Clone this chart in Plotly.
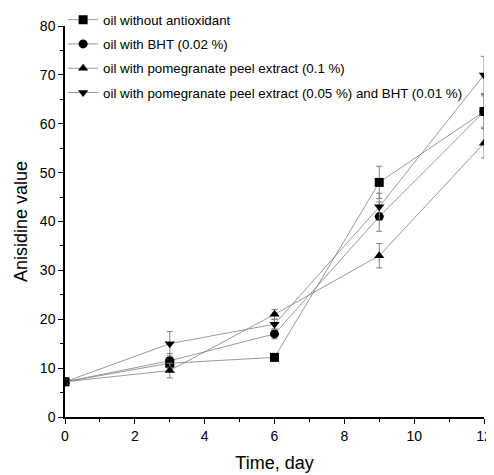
import plotly.graph_objects as go

days = [0, 3, 6, 9, 12]
names = [
    "oil without antioxidant",
    "oil with BHT (0.02 %)",
    "oil with pomegranate peel extract (0.1 %)",
    "oil with pomegranate peel extract (0.05 %) and BHT (0.01 %)",
]
no_antiox = [7.2, 11.0, 12.2, 48.0, 62.5]
bht = [7.2, 11.5, 17.0, 41.0, 62.5]
ppe = [7.2, 9.5, 21.0, 33.0, 56.0]
ppe_bht = [7.2, 15.0, 19.0, 43.0, 70.0]

err_no = [0.4, 1.2, 0.6, 3.3, 3.5]
err_bht = [0.4, 1.5, 1.0, 3.0, 3.2]
err_ppe = [0.4, 1.5, 1.0, 2.5, 3.0]
err_ppebht = [0.4, 2.5, 1.0, 2.8, 3.8]

series = [no_antiox, bht, ppe, ppe_bht]
errors = [err_no, err_bht, err_ppe, err_ppebht]
symbols = ["square", "circle", "triangle-up", "triangle-down"]

fig = go.Figure()
for i, (name, ys, es, sym) in enumerate(zip(names, series, errors, symbols)):
    fig.add_trace(go.Scatter(
        x=days, y=ys, name=name, mode="lines+markers", legendgroup=f"g{i}",
        line=dict(color="#808080", width=0.8),
        marker=dict(symbol=sym, color="black", size=9),
        error_y=dict(type="data", array=es, visible=True, color="#808080", thickness=1, width=3),
    ))

font_fam = "Liberation Sans, Arial"
axis_common = dict(
    showline=True, linecolor="black", linewidth=1.5, ticks="outside", ticklen=5,
    tickwidth=1.2, tickcolor="black", showgrid=False, zeroline=False, mirror=False,
    automargin=False,
    tickfont=dict(family=font_fam, size=14, color="black"),
)
fig.update_xaxes(range=[0, 12], dtick=2, tick0=0,
                 minor=dict(dtick=1, ticks="outside", ticklen=3, tickcolor="black"),
                 title=dict(text="Time, day", font=dict(family=font_fam, size=18, color="black"), standoff=14),
                 **axis_common)
fig.update_yaxes(range=[0, 80], dtick=10, tick0=0,
                 minor=dict(dtick=5, ticks="outside", ticklen=3, tickcolor="black"),
                 title=dict(text="Anisidine value", font=dict(family=font_fam, size=18, color="black"), standoff=8),
                 **axis_common)
# page body has an 8px margin, so size/margins are offset accordingly
fig.update_layout(
    width=486, height=467,
    margin=dict(l=57, r=10, t=18, b=58, autoexpand=False),
    plot_bgcolor="white", paper_bgcolor="white",
    legend=dict(x=-0.0045, y=1.055, xanchor="left", yanchor="top", bgcolor="rgba(0,0,0,0)",
                font=dict(family=font_fam, size=13.3, color="black"),
                traceorder="grouped", tracegroupgap=4, itemwidth=30),
)
fig.write_html("out.html")
